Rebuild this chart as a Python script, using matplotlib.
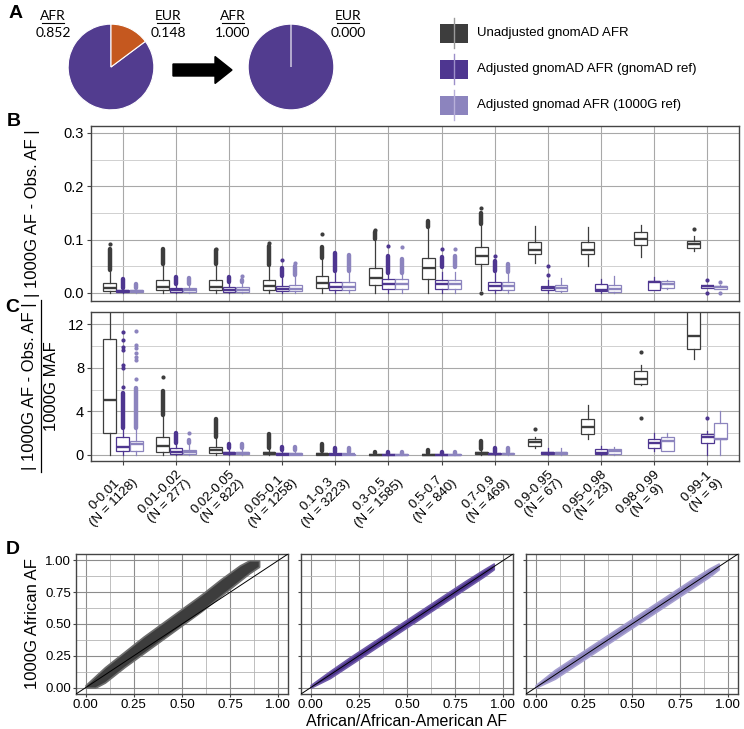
import numpy as np
import matplotlib
matplotlib.use('Agg')
import matplotlib.pyplot as plt
from matplotlib.patches import Rectangle, FancyArrow

plt.rcParams['font.family'] = ['Liberation Sans', 'DejaVu Sans']

col_unadj = '#3d3d3d'
col_gref = '#4e3690'
col_kref = '#8c84be'
col_afr = '#523c8f'
col_eur = '#c5581f'

# ---- panel A: ancestry proportions
pie_before = [0.148, 0.852]   # EUR, AFR
pie_after = [0.000, 1.000]

# ---- panels B/C: AF bins
bins = ['0-0.01', '0.01-0.02', '0.02-0.05', '0.05-0.1', '0.1-0.3', '0.3-0.5',
        '0.5-0.7', '0.7-0.9', '0.9-0.95', '0.95-0.98', '0.98-0.99', '0.99-1']
counts = [1128, 277, 822, 1258, 3223, 1585, 840, 469, 67, 23, 9, 9]

# B: |1000G AF - obs AF|
b_unadj_q1 = [0.003, 0.005, 0.005, 0.005, 0.009, 0.015, 0.026, 0.054, 0.074, 0.074, 0.090, 0.085]
b_unadj_med = [0.009, 0.011, 0.011, 0.013, 0.019, 0.028, 0.046, 0.069, 0.080, 0.081, 0.101, 0.091]
b_unadj_q3 = [0.019, 0.025, 0.025, 0.024, 0.032, 0.047, 0.065, 0.087, 0.096, 0.096, 0.114, 0.098]
b_unadj_lo = [0, 0, 0, 0, 0, 0, 0, 0.005, 0.056, 0.051, 0.068, 0.079]
b_unadj_hi = [0.040, 0.052, 0.050, 0.050, 0.064, 0.100, 0.120, 0.127, 0.125, 0.124, 0.128, 0.106]
b_unadj_run = [(0.043, 0.082), (0.055, 0.082), (0.054, 0.080), (0.052, 0.088), (0.066, 0.086),
               (0.102, 0.115), (0.124, 0.135), (0.130, 0.150), None, None, None, None]
b_unadj_pts = [[0.092], [], [0.083], [0.093], [0.111], [0.118], [], [0.160, 0.0], [], [], [], [0.120]]

b_gref_q1 = [0.001, 0.002, 0.002, 0.003, 0.005, 0.007, 0.007, 0.005, 0.005, 0.003, 0.006, 0.009]
b_gref_med = [0.003, 0.005, 0.006, 0.008, 0.012, 0.016, 0.016, 0.013, 0.010, 0.005, 0.020, 0.013]
b_gref_q3 = [0.006, 0.010, 0.011, 0.014, 0.020, 0.026, 0.025, 0.021, 0.014, 0.017, 0.022, 0.014]
b_gref_lo = [0, 0, 0, 0, 0, 0, 0, 0, 0, 0, 0.005, 0.009]
b_gref_hi = [0.008, 0.014, 0.020, 0.030, 0.041, 0.035, 0.040, 0.040, 0.025, 0.027, 0.030, 0.015]
b_gref_run = [(0.010, 0.026), (0.016, 0.030), (0.021, 0.030), (0.031, 0.047), (0.042, 0.075),
              (0.037, 0.070), (0.048, 0.068), (0.042, 0.060), None, None, None, None]
b_gref_pts = [[], [], [], [0.062], [], [0.089], [0.082], [0.070], [0.034, 0.051], [], [], [0.025, 0.0]]

b_kref_q1 = [0.001, 0.002, 0.002, 0.003, 0.005, 0.007, 0.007, 0.005, 0.004, 0.002, 0.010, 0.008]
b_kref_med = [0.003, 0.005, 0.006, 0.008, 0.012, 0.016, 0.016, 0.013, 0.010, 0.008, 0.017, 0.011]
b_kref_q3 = [0.006, 0.009, 0.011, 0.015, 0.020, 0.026, 0.025, 0.021, 0.015, 0.015, 0.023, 0.013]
b_kref_lo = [0, 0, 0, 0, 0, 0, 0, 0, 0.001, 0, 0.007, 0.007]
b_kref_hi = [0.008, 0.015, 0.020, 0.031, 0.041, 0.035, 0.040, 0.037, 0.029, 0.031, 0.025, 0.015]
b_kref_run = [(0.010, 0.017), (0.016, 0.028), (0.021, 0.025), (0.033, 0.050), (0.042, 0.071),
              (0.037, 0.063), (0.048, 0.070), (0.040, 0.055), None, None, None, None]
b_kref_pts = [[], [], [0.031], [0.057], [], [0.086], [0.082], [], [], [], [], [0.021, 0.0]]

# C: |1000G AF - obs AF| / 1000G MAF
c_unadj_q1 = [2.05, 0.31, 0.21, 0.05, 0.03, 0.01, 0.01, 0.10, 0.86, 1.93, 6.48, 9.75]
c_unadj_med = [5.08, 0.83, 0.46, 0.15, 0.10, 0.04, 0.04, 0.20, 1.16, 2.54, 7.00, 10.92]
c_unadj_q3 = [10.67, 1.68, 0.76, 0.25, 0.20, 0.08, 0.08, 0.30, 1.44, 3.30, 7.70, 14.5]
c_unadj_lo = [0, 0, 0, 0, 0, 0, 0, 0, 0.67, 1.44, 6.39, 8.78]
c_unadj_hi = [14.5, 3.5, 1.6, 0.6, 0.38, 0.15, 0.17, 0.50, 1.68, 4.56, 8.26, 15.0]
c_unadj_run = [None, (3.67, 5.9), (1.65, 3.3), (0.65, 1.95), (0.4, 1.0), (0.17, 0.3),
               (0.2, 0.45), (0.55, 1.28), None, None, None, None]
c_unadj_pts = [[], [7.1], [], [], [], [], [], [], [2.35], [], [9.48, 3.43], []]

c_gref_q1 = [0.40, 0.10, 0.06, 0.03, 0.02, 0.01, 0.01, 0.05, 0.10, 0.12, 0.64, 1.07]
c_gref_med = [0.76, 0.25, 0.15, 0.10, 0.06, 0.03, 0.03, 0.10, 0.15, 0.20, 1.07, 1.68]
c_gref_q3 = [1.62, 0.60, 0.25, 0.18, 0.10, 0.06, 0.05, 0.15, 0.28, 0.52, 1.44, 1.93]
c_gref_lo = [0, 0, 0, 0, 0, 0, 0, 0, 0, 0, 0.4, 0]
c_gref_hi = [2.3, 1.0, 0.55, 0.4, 0.25, 0.12, 0.1, 0.25, 0.6, 0.83, 2.05, 2.2]
c_gref_run = [(2.45, 5.7), (1.1, 2.0), (0.6, 1.0), (0.42, 0.75), (0.27, 0.6), (0.13, 0.3),
              (0.12, 0.3), (0.27, 0.6), None, None, None, None]
c_gref_pts = [[6.2, 7.95, 8.26, 9.6, 9.9, 10.5, 11.3], [], [], [], [], [], [], [], [], [], [], [3.4]]

c_kref_q1 = [0.40, 0.10, 0.06, 0.03, 0.02, 0.01, 0.01, 0.05, 0.10, 0.12, 0.40, 1.44]
c_kref_med = [0.98, 0.25, 0.15, 0.10, 0.06, 0.03, 0.03, 0.10, 0.18, 0.37, 1.25, 1.47]
c_kref_q3 = [1.28, 0.50, 0.25, 0.18, 0.10, 0.06, 0.05, 0.15, 0.28, 0.55, 1.62, 2.97]
c_kref_lo = [0, 0, 0, 0, 0, 0, 0, 0, 0, 0, 0.4, 0]
c_kref_hi = [2.3, 0.95, 0.55, 0.4, 0.25, 0.12, 0.1, 0.25, 0.67, 0.76, 2.05, 4.07]
c_kref_run = [(2.45, 6.1), (1.07, 1.4), (0.6, 1.0), (0.42, 0.75), (0.27, 0.6), (0.13, 0.3),
              (0.12, 0.3), (0.27, 0.6), None, None, None, None]
c_kref_pts = [[7.0, 8.7, 9.0, 9.3, 9.8, 10.1, 11.4], [2.0], [], [], [], [], [], [], [], [], [], []]

# D: 1000G AF vs gnomAD AF, extent of the point cloud
d_x = [0.0, 0.05, 0.1, 0.2, 0.3, 0.4, 0.5, 0.6, 0.7, 0.8, 0.85, 0.9]
d_unadj_lo = [0.0, 0.0, 0.04, 0.16, 0.27, 0.38, 0.49, 0.60, 0.72, 0.84, 0.90, 0.95]
d_unadj_hi = [0.02, 0.09, 0.16, 0.28, 0.40, 0.51, 0.62, 0.73, 0.85, 0.96, 1.0, 1.0]
d_x2 = [0.0, 0.1, 0.2, 0.3, 0.4, 0.5, 0.6, 0.7, 0.8, 0.9, 0.95]
d_gref_lo = [0.0, 0.075, 0.175, 0.275, 0.375, 0.475, 0.575, 0.675, 0.775, 0.875, 0.93]
d_gref_hi = [0.02, 0.13, 0.235, 0.335, 0.435, 0.535, 0.635, 0.735, 0.835, 0.93, 0.975]
d_kref_lo = [0.0, 0.07, 0.17, 0.27, 0.37, 0.47, 0.57, 0.67, 0.77, 0.87, 0.93]
d_kref_hi = [0.02, 0.14, 0.24, 0.34, 0.44, 0.54, 0.64, 0.74, 0.84, 0.935, 0.975]

legend_labels = ['Unadjusted gnomAD AFR', 'Adjusted gnomAD AFR (gnomAD ref)',
                 'Adjusted gnomad AFR (1000G ref)']

W, H = 744, 729
fig = plt.figure(figsize=(W / 100, H / 100), dpi=100)


def px_axes(l, t, r, b):
    return fig.add_axes([l / W, 1 - b / H, (r - l) / W, (b - t) / H])


# overlay for free text in pixel coords
ov = fig.add_axes([0, 0, 1, 1])
ov.set_xlim(0, W)
ov.set_ylim(H, 0)
ov.axis('off')

for lab, x, y in [('A', 16, 13), ('B', 14, 121), ('C', 12, 307), ('D', 13, 549)]:
    ov.text(x, y, lab, fontsize=14, fontweight='bold', ha='center', va='center')

# ---- A
for cx, vals, (l1, l2) in [(111, pie_before, ('0.852', '0.148')),
                           (291, pie_after, ('1.000', '0.000'))]:
    ax = px_axes(cx - 45, 22, cx + 45, 112)
    w, _ = ax.pie(vals, colors=[col_eur, col_afr], startangle=90, counterclock=False,
                  wedgeprops=dict(edgecolor='white', linewidth=0.8))
    w[0].set_zorder(3)
    ax.set_xlim(-1.05, 1.05)
    ax.set_ylim(-1.05, 1.05)
    ax.set_aspect('equal')
    for tx, name, val in [(cx - 58, 'AFR', l1), (cx + 57, 'EUR', l2)]:
        ov.text(tx, 16, name, fontsize=10, family='Lato', ha='center', va='center')
        ov.plot([tx - 11, tx + 11], [22.5, 22.5], color='black', lw=0.8)
        ov.text(tx, 33, val, fontsize=10, family='Lato', ha='center', va='center')

ov.add_patch(FancyArrow(173, 70, 59, 0, width=12, head_width=27, head_length=17,
                        length_includes_head=True, color='black'))

# legend
for i, (lab, c, wc) in enumerate(zip(legend_labels, [col_unadj, col_gref, col_kref],
                                     ['#9a9a9a', '#9d8fc9', '#b8b0da'])):
    yc = 33 + 36 * i
    ov.plot([454, 454], [yc - 15, yc + 15], color=wc, lw=1.0)
    ov.add_patch(Rectangle((440, yc - 9.5), 28, 19, facecolor=c, edgecolor='none'))
    ov.text(477, yc, lab, fontsize=9.5, ha='left', va='center')

# ---- B and C boxplots
offs = [-0.25, 0.0, 0.25]
cols = [col_unadj, col_gref, col_kref]
pos = np.arange(1, len(bins) + 1)


def draw_boxes(ax, series):
    for off, c, (q1, med, q3, lo, hi, runs, pts) in zip(offs, cols, series):
        stats = []
        for i in range(len(bins)):
            stats.append(dict(q1=q1[i], med=med[i], q3=q3[i], whislo=lo[i], whishi=hi[i],
                              fliers=pts[i]))
        ax.bxp(stats, positions=pos + off, widths=0.24, patch_artist=True, showcaps=False,
               boxprops=dict(facecolor='white', edgecolor=c, linewidth=0.9),
               whiskerprops=dict(color=c, linewidth=0.9),
               medianprops=dict(color=c, linewidth=1.7),
               flierprops=dict(marker='o', markersize=3, markerfacecolor=c,
                               markeredgecolor='none'))
        rx = [p + off for p, r in zip(pos, runs) if r is not None]
        rlo = [r[0] for r in runs if r is not None]
        rhi = [r[1] for r in runs if r is not None]
        ax.vlines(rx, rlo, rhi, colors=c, linewidth=3.2, capstyle='round', zorder=3)


def style_cat(ax):
    ax.set_xlim(0.4, 12.6)
    ax.set_xticks(pos)
    ax.set_axisbelow(True)
    ax.grid(which='major', color='#a8a8a8', linewidth=0.8)
    ax.grid(which='minor', axis='y', color='#d0d0d0', linewidth=0.7)
    for s in ax.spines.values():
        s.set_color('#444444')
        s.set_linewidth(1.0)
    ax.tick_params(axis='both', which='major', length=3, color='#444444', labelsize=10.5, pad=2)
    ax.tick_params(which='minor', length=0)


axB = px_axes(91, 126, 739, 301)
draw_boxes(axB, [(b_unadj_q1, b_unadj_med, b_unadj_q3, b_unadj_lo, b_unadj_hi, b_unadj_run, b_unadj_pts),
                 (b_gref_q1, b_gref_med, b_gref_q3, b_gref_lo, b_gref_hi, b_gref_run, b_gref_pts),
                 (b_kref_q1, b_kref_med, b_kref_q3, b_kref_lo, b_kref_hi, b_kref_run, b_kref_pts)])
style_cat(axB)
axB.set_ylim(-0.015, 0.313)
axB.set_yticks([0, 0.1, 0.2, 0.3])
axB.set_yticklabels(['0.0', '0.1', '0.2', '0.3'])
axB.set_yticks([0.05, 0.15, 0.25], minor=True)
axB.set_xticklabels([])
axB.tick_params(axis='x', length=0)
ov.text(33, 213, '| 1000G AF - Obs. AF |', fontsize=12, rotation=90, ha='center', va='center')

axC = px_axes(91, 312, 739, 461)
draw_boxes(axC, [(c_unadj_q1, c_unadj_med, c_unadj_q3, c_unadj_lo, c_unadj_hi, c_unadj_run, c_unadj_pts),
                 (c_gref_q1, c_gref_med, c_gref_q3, c_gref_lo, c_gref_hi, c_gref_run, c_gref_pts),
                 (c_kref_q1, c_kref_med, c_kref_q3, c_kref_lo, c_kref_hi, c_kref_run, c_kref_pts)])
style_cat(axC)
axC.set_ylim(-0.55, 13.1)
axC.set_yticks([0, 4, 8, 12])
axC.set_yticks([2, 6, 10], minor=True)
axC.set_xticklabels(['%s\n(N = %d)' % (b, n) for b, n in zip(bins, counts)],
                    rotation=45, ha='right', va='top', rotation_mode='anchor',
                    multialignment='center', fontsize=9.5, linespacing=1.05)
ov.text(30, 386, '| 1000G AF - Obs. AF |', fontsize=12, rotation=90, ha='center', va='center')
ov.plot([41, 41], [300, 472], color='black', lw=0.9)
ov.text(51, 386, '1000G MAF', fontsize=12, rotation=90, ha='center', va='center')

# ---- D scatter clouds
d_series = [(d_x, d_unadj_lo, d_unadj_hi, col_unadj, '#6e6e6e'),
            (d_x2, d_gref_lo, d_gref_hi, col_gref, '#6f5aa8'),
            (d_x2, d_kref_lo, d_kref_hi, col_kref, '#a59ecf')]
ticks = [0, 0.25, 0.5, 0.75, 1.0]
for k, (l, (xs, lo, hi, c, ec)) in enumerate(zip([76, 301, 526], d_series)):
    ax = px_axes(l, 554, l + 212, 694)
    ax.fill_between(xs, lo, hi, facecolor=c, edgecolor=ec, linewidth=1.2, zorder=2)
    ax.axline((0, 0), slope=1, color='black', lw=0.7, zorder=3)
    ax.set_xlim(-0.05, 1.05)
    ax.set_ylim(-0.05, 1.05)
    ax.set_xticks(ticks)
    ax.set_xticklabels(['%.2f' % t for t in ticks])
    ax.set_yticks(ticks)
    ax.set_xticks([0.125, 0.375, 0.625, 0.875], minor=True)
    ax.set_yticks([0.125, 0.375, 0.625, 0.875], minor=True)
    if k == 0:
        ax.set_yticklabels(['%.2f' % t for t in ticks])
    else:
        ax.set_yticklabels([])
        ax.tick_params(axis='y', length=0)
    ax.set_axisbelow(True)
    ax.grid(which='major', color='#8c8c8c', linewidth=0.8)
    ax.grid(which='minor', color='#b4b4b4', linewidth=0.6)
    for s in ax.spines.values():
        s.set_color('#444444')
        s.set_linewidth(1.0)
    ax.tick_params(which='major', length=2.5, color='#444444', labelsize=9.5, pad=1)
    ax.tick_params(which='minor', length=0)

ov.text(33, 624, '1000G African AF', fontsize=12, rotation=90, ha='center', va='center')
ov.text(407, 721, 'African/African-American AF', fontsize=11.5, ha='center', va='center')

fig.savefig('out.png', dpi=100)
